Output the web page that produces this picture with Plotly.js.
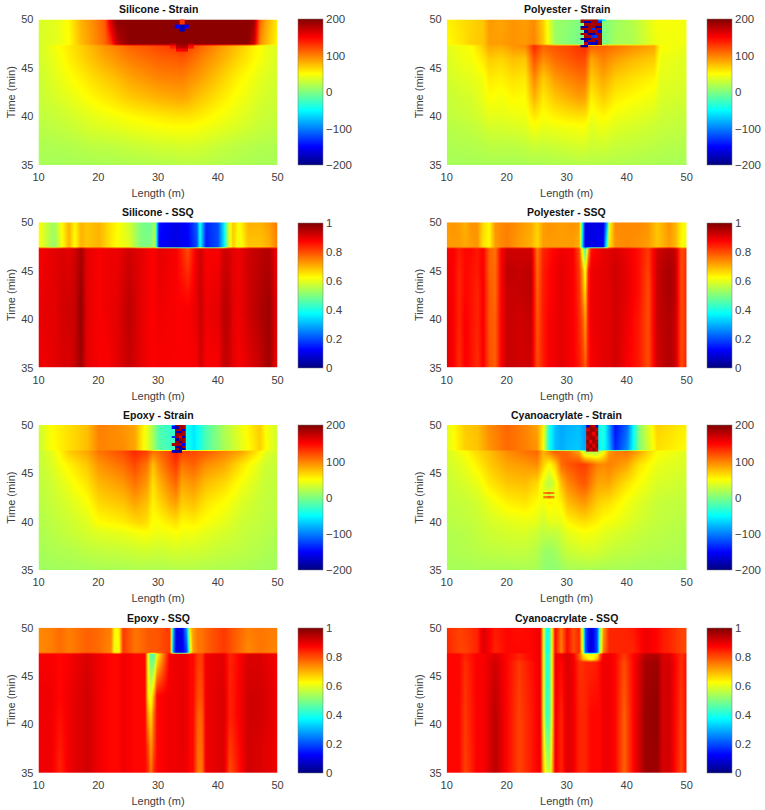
<!DOCTYPE html>
<html>
<head>
<meta charset="utf-8">
<script src="https://cdn.plot.ly/plotly-3.0.1.min.js"></script>
<style>
  html, body { margin: 0; padding: 0; background: #fff; }
  #chart { width: 765px; height: 810px; }
</style>
</head>
<body>
<div id="chart"></div>
<script>
/* --- values --- */
const strainTimes = [35, 37, 39, 40, 42, 44, 46, 47.3, 47.5, 50];
const strainTicks = [-200, -100, 0, 100, 200];
const ssqTicks = [0, 0.2, 0.4, 0.6, 0.8, 1];
const lengthTicks = [10, 20, 30, 40, 50];
const timeTicks = [35, 40, 45, 50];

const siliconeStrainLength = [10,13,15,17,19,21,22,23,25,30,33,34,35,37,40,43,45,46,47,48,50];
const siliconeStrainZ = [
  [15,15,15,16,16,17,17,17,18,20,21,22,22,22,20,18,17,17,16,16,15],
  [18,19,20,22,24,25,25,26,28,32,33,34,34,33,28,24,22,21,20,20,19],
  [22,26,28,32,36,38,39,40,43,48,50,50,50,47,42,36,32,30,28,27,25],
  [25,28,32,36,40,44,45,47,50,57,60,60,60,56,48,40,36,33,30,29,27],
  [28,35,40,46,52,58,60,63,70,80,84,85,82,72,60,48,42,38,35,33,30],
  [30,40,48,55,63,70,73,77,85,98,100,100,96,88,72,56,48,44,40,37,32],
  [32,44,55,65,75,85,88,93,100,112,114,116,112,100,85,68,58,52,47,42,35],
  [33,48,58,68,80,92,96,100,110,122,128,135,125,112,92,75,62,55,50,44,36],
  [34,40,50,76,92,110,130,175,195,195,195,195,195,195,195,195,195,170,95,78,50],
  [35,40,52,80,95,115,170,195,195,195,195,195,195,195,195,195,195,190,110,85,55]
];
const siliconeSpotLength = [33.2, 34, 34.8];
const siliconeSpotTime = [48.9, 49.2, 49.8];
const siliconeSpotZ = [
  [null, -175, null],
  [-150, -180, -150],
  [null, 130, null]
];
const siliconeTipLength = [32.5, 33.5, 34.5, 35.5];
const siliconeTipTime = [46.85, 47.15, 47.4];
const siliconeTipZ = [
  [null, 150, 155, null],
  [140, 175, 180, 145],
  [170, 190, 190, 170]
];

const polyesterStrainLength = [10,12.5,14,16,17,19,21,23,24.5,26,28,30,32,33,34,36,38,41,44.5,45.5,50];
const polyesterStrainZ = [
  [15,15,15,16,16,16,16,16,17,17,18,19,20,20,20,20,19,18,17,17,15],
  [18,20,20,22,24,24,24,26,30,28,30,32,34,34,30,32,28,26,24,22,20],
  [22,24,26,30,34,34,36,38,48,42,44,46,48,48,38,44,38,34,30,28,25],
  [25,28,30,35,40,40,42,44,58,48,54,58,60,60,44,52,44,40,34,30,27],
  [28,32,34,42,50,46,52,50,80,58,72,80,88,85,55,70,56,50,44,36,32],
  [33,38,40,46,58,55,62,58,98,70,90,98,105,105,70,85,70,62,54,40,36],
  [36,44,46,58,70,66,75,72,118,95,108,115,122,120,85,100,88,78,70,44,38],
  [40,46,50,70,85,82,92,95,135,112,118,122,130,135,112,112,105,95,85,50,42],
  [50,60,68,72,88,88,92,90,98,72,12,2,-5,-5,-5,-5,15,18,42,45,45],
  [55,62,66,72,90,85,92,88,95,68,10,8,0,0,0,0,12,22,45,48,46]
];
const polyesterNoiseLength = [32.6,33.2,33.8,34.4,35,35.6,36.2];
const polyesterNoiseTime = [47.25,47.5,47.75,48,48.25,48.5,48.75,49,49.25,49.5,49.75,50];
const polyesterNoiseZ = [
  [-185,-185,null,null,null,null,null],
  [null,175,-170,-170,-185,185,null],
  [null,-185,185,185,-150,185,null],
  [-185,-185,-185,185,185,185,null],
  [null,185,185,-130,-130,185,null],
  [185,185,-185,-185,185,185,null],
  [null,-185,185,185,185,-150,null],
  [185,185,185,-130,185,185,null],
  [-185,-185,185,185,-185,-185,null],
  [null,185,185,185,185,185,null],
  [185,-185,-185,185,185,-130,null],
  [185,185,185,185,185,-100,-60]
];

const epoxyStrainLength = [10,12,15,18,20,24,26,27,28,29,30,32,33,34,36,38,41,44,47,48,50];
const epoxyStrainZ = [
  [12,13,14,15,16,17,18,18,18,18,18,19,20,20,20,19,18,17,15,14,13],
  [15,18,20,24,26,28,30,31,32,30,30,32,34,32,32,30,26,24,20,18,16],
  [18,22,28,34,38,42,46,48,50,45,44,46,50,46,45,40,34,28,24,22,20],
  [20,24,30,38,50,56,64,66,62,48,50,58,62,52,55,48,40,30,26,24,22],
  [22,28,36,48,65,74,86,80,75,55,65,82,88,70,75,60,50,36,28,26,25],
  [25,30,44,60,78,90,105,98,90,62,78,100,110,85,92,75,65,46,32,28,26],
  [26,36,55,72,92,108,122,112,105,75,95,118,128,105,112,95,85,60,38,30,28],
  [28,38,70,85,105,120,135,130,125,105,110,125,140,125,122,115,100,85,55,40,30],
  [30,48,62,75,98,95,85,60,40,18,-15,-25,-25,-25,-60,-20,15,40,68,50,30],
  [30,50,62,75,100,92,85,62,42,15,-20,-30,-30,-30,-60,-20,18,45,70,48,30]
];
const epoxyNoiseLength = [32.6,33.2,33.8,34.4];
const epoxyNoiseTime = [47.25,47.5,47.75,48,48.25,48.5,48.75,49,49.25,49.5,49.75,50];
const epoxyNoiseZ = [
  [-170,-185,-185,null],
  [null,185,-170,-185],
  [null,-185,-185,185],
  [185,185,185,-150],
  [null,185,-185,185],
  [null,-185,185,185],
  [-130,185,150,-185],
  [null,185,185,185],
  [null,-170,-185,185],
  [null,185,185,-170],
  [-150,-185,185,185],
  [-100,185,185,185]
];

const cyanoStrainLength = [10,13,15,17,20,23,25,26,27,28,29,30,32,33,35,36,37,38,40,42,45,50];
const cyanoStrainZ = [
  [15,15,16,16,16,17,16,8,5,5,10,15,16,17,16,16,16,15,15,14,14,12],
  [18,20,22,24,26,26,22,12,10,14,22,28,32,34,33,30,28,26,24,22,20,18],
  [20,22,26,30,34,36,30,25,28,26,32,40,46,48,44,40,38,36,32,28,24,20],
  [22,25,28,33,38,42,40,30,40,40,40,52,60,62,54,48,46,44,38,32,26,22],
  [25,28,32,42,55,60,50,45,55,50,55,75,88,90,70,65,62,56,45,38,28,25],
  [28,35,42,58,72,75,65,40,20,40,75,95,112,115,85,85,85,75,60,48,35,30],
  [32,42,55,70,85,90,95,70,50,70,108,115,125,125,100,95,100,95,85,60,42,35],
  [35,50,65,75,95,105,110,80,100,115,112,110,85,15,15,45,90,100,105,85,50,38],
  [38,68,72,92,108,100,92,50,-45,-75,-82,-75,-72,-85,-60,-40,-80,-135,-95,0,62,50],
  [40,70,75,95,110,98,85,55,-40,-75,-85,-80,-75,-90,-60,-30,-90,-145,-110,5,68,55]
];
const cyanoNoiseLength = [33.5,34,34.5,35];
const cyanoNoiseTime = [47.5,47.9,48.3,48.7,49.1,49.5,50];
const cyanoNoiseZ = [
  [190,170,190,170],
  [175,190,160,190],
  [190,150,190,180],
  [170,190,185,160],
  [190,180,150,190],
  [165,190,190,170],
  [-180,190,170,-180]
];
const cyanoMarkLength = [26.4, 27, 27.6];
const cyanoMarkTime = [42.55, 42.75, 42.95, 43.15];
const cyanoMarkZ = [
  [100, 110, 100],
  [40, 30, 40],
  [100, 110, 100],
  [45, 35, 45]
];

const siliconeSsqLength = [10,11,12.5,14,15,16,17,18,20,21.5,23,25,27,28.5,29.4,30,33,35,36.5,37,38,40,41,41.7,42.5,43.5,45,47,48.5,50];
const siliconeSsqTime = [35, 41, 47.3, 47.5, 50];
const siliconeSsqZ = [
  [.89,.89,.9,.91,.91,.93,.97,.9,.88,.88,.9,.93,.9,.88,.88,.88,.88,.88,.88,.92,.88,.88,.93,.93,.9,.88,.9,.93,.97,.88],
  [.89,.9,.9,.92,.92,.93,.98,.9,.88,.89,.9,.94,.9,.88,.88,.89,.88,.88,.9,.93,.89,.9,.94,.94,.9,.89,.92,.95,.97,.89],
  [.88,.89,.9,.91,.9,.92,.96,.9,.88,.89,.89,.92,.9,.88,.88,.9,.88,.8,.9,.92,.88,.88,.92,.92,.9,.89,.92,.94,.95,.88],
  [.62,.58,.52,.63,.7,.62,.7,.68,.7,.66,.62,.6,.5,.5,.55,.12,.1,.12,.2,.38,.15,.2,.35,.55,.68,.6,.68,.68,.7,.75],
  [.63,.58,.53,.64,.7,.63,.7,.68,.7,.66,.63,.58,.5,.48,.54,.14,.1,.13,.22,.4,.16,.2,.36,.56,.68,.62,.7,.7,.72,.76]
];

const polyesterSsqLength = [10,11,12,13,14,15,16,17,18,19,20,22,24,25,26,27,29,31,32,32.6,33,33.5,34,36,36.6,37,38,40,42,43.5,45,47,48,49,50];
const polyesterSsqTime = [35, 40, 43, 45, 47.3, 47.5, 50];
const polyesterSsqZ = [
  [.9,.88,.83,.88,.86,.83,.88,.8,.78,.88,.93,.92,.92,.8,.85,.88,.9,.88,.85,.82,.78,.85,.88,.9,.9,.9,.92,.88,.85,.8,.92,.95,.93,.8,.85],
  [.9,.88,.84,.88,.86,.84,.88,.79,.78,.88,.93,.92,.93,.79,.85,.88,.9,.88,.84,.78,.72,.85,.89,.9,.9,.9,.92,.89,.85,.8,.93,.95,.93,.8,.84],
  [.89,.88,.84,.87,.86,.84,.88,.79,.77,.88,.93,.93,.94,.78,.85,.87,.9,.88,.83,.72,.66,.85,.89,.9,.9,.9,.92,.9,.86,.8,.93,.96,.94,.8,.84],
  [.89,.88,.84,.87,.86,.85,.88,.78,.77,.88,.94,.93,.94,.77,.85,.87,.9,.88,.82,.7,.6,.84,.89,.9,.9,.91,.92,.9,.86,.81,.93,.96,.94,.8,.84],
  [.88,.88,.85,.87,.87,.85,.88,.78,.76,.88,.92,.92,.92,.76,.84,.86,.89,.88,.8,.55,.42,.7,.86,.9,.9,.9,.91,.89,.86,.82,.92,.94,.93,.8,.83],
  [.72,.72,.72,.71,.72,.73,.65,.63,.72,.74,.75,.72,.7,.66,.72,.72,.72,.72,.7,.25,.1,.1,.1,.12,.45,.65,.73,.74,.73,.72,.68,.72,.7,.63,.6],
  [.72,.73,.72,.7,.73,.73,.66,.63,.73,.74,.75,.73,.71,.67,.72,.73,.72,.73,.72,.3,.1,.1,.1,.1,.3,.62,.74,.74,.74,.73,.68,.73,.7,.64,.62]
];

const epoxySsqLength = [10,12,13.5,15,18,20,22,22.8,23.4,24,26,27.8,28.3,28.8,29.3,29.8,32,32.4,33,34,34.8,35.2,35.8,36.6,37.2,38,41,42,45,47,50];
const epoxySsqTime = [35, 38, 41, 43, 47.3, 47.5, 50];
const epoxySsqZ = [
  [.89,.89,.84,.89,.92,.89,.87,.87,.87,.89,.87,.87,.84,.76,.84,.87,.89,.89,.89,.89,.89,.87,.87,.76,.76,.89,.91,.8,.92,.91,.89],
  [.89,.89,.85,.89,.92,.89,.87,.87,.87,.89,.87,.87,.8,.72,.8,.87,.89,.89,.89,.9,.89,.87,.87,.77,.77,.89,.91,.82,.92,.91,.89],
  [.89,.89,.86,.89,.92,.89,.87,.87,.87,.89,.87,.87,.72,.66,.78,.87,.89,.89,.89,.9,.89,.87,.87,.78,.78,.89,.91,.84,.92,.92,.89],
  [.89,.89,.87,.89,.92,.89,.87,.87,.87,.89,.87,.87,.65,.6,.72,.87,.89,.89,.89,.9,.89,.87,.87,.8,.8,.89,.91,.84,.92,.92,.89],
  [.88,.88,.87,.88,.91,.89,.87,.87,.87,.89,.87,.87,.62,.45,.45,.62,.89,.89,.89,.89,.89,.87,.87,.82,.82,.89,.9,.84,.91,.91,.88],
  [.74,.75,.77,.75,.78,.77,.74,.6,.62,.82,.76,.78,.79,.79,.79,.79,.82,.3,.1,.1,.2,.55,.72,.76,.76,.78,.82,.8,.74,.76,.74],
  [.74,.75,.77,.75,.78,.77,.75,.62,.64,.82,.76,.78,.79,.79,.79,.79,.82,.35,.1,.1,.3,.65,.72,.76,.76,.78,.82,.8,.75,.76,.75]
];

const cyanoSsqLength = [10,12,13,15,16,18,20,22,24,25.5,26,26.5,27,27.5,28,29,30,31,32,32.6,33,34,35,35.5,36,37,38,39.5,41,43,45,46,47,49,50];
const cyanoSsqTime = [35, 41, 46.5, 46.8, 47.3, 47.5, 50];
const cyanoSsqZ = [
  [.87,.87,.81,.88,.88,.94,.87,.81,.85,.89,.7,.6,.55,.7,.89,.84,.91,.89,.84,.84,.84,.87,.87,.87,.89,.89,.87,.78,.87,.97,.97,.91,.92,.81,.87],
  [.87,.87,.82,.88,.88,.94,.87,.81,.85,.89,.65,.44,.44,.65,.89,.84,.91,.89,.84,.84,.84,.87,.87,.87,.89,.89,.87,.78,.87,.97,.98,.91,.92,.82,.87],
  [.87,.87,.83,.88,.88,.92,.87,.82,.86,.89,.65,.42,.42,.65,.89,.87,.91,.89,.83,.83,.84,.84,.85,.87,.89,.89,.87,.8,.87,.96,.97,.91,.92,.83,.87],
  [.87,.87,.84,.88,.88,.91,.87,.84,.87,.89,.65,.42,.42,.65,.89,.88,.91,.89,.8,.7,.68,.6,.7,.82,.89,.89,.87,.81,.87,.95,.96,.91,.91,.83,.86],
  [.87,.87,.84,.88,.88,.91,.87,.84,.87,.89,.65,.42,.42,.65,.89,.89,.91,.89,.78,.65,.62,.62,.64,.8,.89,.89,.87,.82,.87,.94,.95,.91,.91,.83,.86],
  [.84,.81,.81,.84,.91,.84,.87,.87,.87,.89,.65,.4,.4,.65,.87,.75,.87,.8,.84,.55,.2,.08,.2,.55,.75,.84,.84,.84,.84,.89,.87,.85,.84,.81,.8],
  [.83,.81,.82,.84,.91,.85,.87,.86,.87,.89,.65,.4,.4,.65,.87,.76,.87,.8,.84,.5,.2,.08,.2,.5,.72,.84,.84,.84,.85,.89,.87,.85,.84,.81,.81]
];

/* --- MATLAB jet --- */
const JET = [
  [0, '#00007f'], [0.125, '#0000ff'], [0.375, '#00ffff'],
  [0.625, '#ffff00'], [0.875, '#ff0000'], [1, '#7f0000'],
];

const FONT = 'Liberation Sans, Arial, sans-serif';
const TEXT_COLOR = '#404040';
const W = 765, H = 810;

const columns = [
  { left: 38.5, right: 277.5, cbLeft: 297.5 },
  { left: 446.7, right: 686.7, cbLeft: 706.7 },
];
const rows = [
  { top: 19.5, bottom: 165 },
  { top: 222.3, bottom: 367.7 },
  { top: 425, bottom: 570.3 },
  { top: 627.7, bottom: 773 },
];

const panels = [
  { title: 'Silicone - Strain', col: 0, row: 0, x: siliconeStrainLength, y: strainTimes, z: siliconeStrainZ, strain: true,
    extras: [[siliconeSpotLength, siliconeSpotTime, siliconeSpotZ], [siliconeTipLength, siliconeTipTime, siliconeTipZ]] },
  { title: 'Polyester - Strain', col: 1, row: 0, x: polyesterStrainLength, y: strainTimes, z: polyesterStrainZ, strain: true,
    extras: [[polyesterNoiseLength, polyesterNoiseTime, polyesterNoiseZ]] },
  { title: 'Silicone - SSQ', col: 0, row: 1, x: siliconeSsqLength, y: siliconeSsqTime, z: siliconeSsqZ },
  { title: 'Polyester - SSQ', col: 1, row: 1, x: polyesterSsqLength, y: polyesterSsqTime, z: polyesterSsqZ },
  { title: 'Epoxy - Strain', col: 0, row: 2, x: epoxyStrainLength, y: strainTimes, z: epoxyStrainZ, strain: true,
    extras: [[epoxyNoiseLength, epoxyNoiseTime, epoxyNoiseZ]] },
  { title: 'Cyanoacrylate - Strain', col: 1, row: 2, x: cyanoStrainLength, y: strainTimes, z: cyanoStrainZ, strain: true,
    extras: [[cyanoNoiseLength, cyanoNoiseTime, cyanoNoiseZ], [cyanoMarkLength, cyanoMarkTime, cyanoMarkZ]] },
  { title: 'Epoxy - SSQ', col: 0, row: 3, x: epoxySsqLength, y: epoxySsqTime, z: epoxySsqZ },
  { title: 'Cyanoacrylate - SSQ', col: 1, row: 3, x: cyanoSsqLength, y: cyanoSsqTime, z: cyanoSsqZ },
];

const traces = [];
const layout = {
  width: W, height: H,
  margin: { l: 0, r: 0, t: 0, b: 0 },
  paper_bgcolor: '#fff', plot_bgcolor: '#fff',
  font: { family: FONT, color: TEXT_COLOR, size: 11 },
  showlegend: false,
  annotations: [],
};

panels.forEach((p, i) => {
  const c = columns[p.col], r = rows[p.row];
  const n = i === 0 ? '' : String(i + 1);
  const zmin = p.strain ? -200 : 0, zmax = p.strain ? 200 : 1;

  traces.push({
    type: 'heatmap', x: p.x, y: p.y, z: p.z,
    xaxis: 'x' + n, yaxis: 'y' + n,
    zmin, zmax, colorscale: JET, zsmooth: 'best',
    colorbar: {
      x: c.cbLeft / W, xanchor: 'left', xpad: 0, ypad: 0,
      y: 1 - r.bottom / H, yanchor: 'bottom',
      len: (r.bottom - r.top) / H, lenmode: 'fraction',
      thickness: 24.5, thicknessmode: 'pixels',
      outlinewidth: 0.5, outlinecolor: '#777',
      tickvals: p.strain ? strainTicks : ssqTicks,
      ticks: '', tickfont: { family: FONT, size: 11.5, color: TEXT_COLOR },
    },
  });
  (p.extras || []).forEach(extra => {
    traces.push({
      type: 'heatmap', x: extra[0], y: extra[1], z: extra[2],
      xaxis: 'x' + n, yaxis: 'y' + n,
      zmin, zmax, colorscale: JET, showscale: false, hoverongaps: false,
    });
  });

  layout['xaxis' + n] = {
    domain: [c.left / W, c.right / W], anchor: 'y' + n,
    range: [10, 50], tickvals: lengthTicks, ticks: '', ticklabelstandoff: 4,
    showgrid: false, zeroline: false, showline: false,
    tickfont: { family: FONT, size: 11, color: TEXT_COLOR },
    title: { text: 'Length (m)', font: { family: FONT, size: 11, color: TEXT_COLOR }, standoff: 7 },
  };
  layout['yaxis' + n] = {
    domain: [1 - r.bottom / H, 1 - r.top / H], anchor: 'x' + n,
    range: [35, 50], tickvals: timeTicks, ticks: '', ticklabelstandoff: 4,
    showgrid: false, zeroline: false, showline: false,
    tickfont: { family: FONT, size: 11, color: TEXT_COLOR },
    title: { text: 'Time (min)', font: { family: FONT, size: 11, color: TEXT_COLOR }, standoff: 3 },
  };
  layout.annotations.push({
    text: '<b>' + p.title + '</b>',
    xref: 'paper', yref: 'paper',
    x: (c.left + c.right) / 2 / W, y: 1 - (r.top - 3) / H,
    xanchor: 'center', yanchor: 'bottom', showarrow: false,
    font: { family: FONT, size: 10.5, color: '#111' },
    borderpad: 0,
  });
});

Plotly.newPlot('chart', traces, layout, { displayModeBar: false, responsive: false });
</script>
</body>
</html>
